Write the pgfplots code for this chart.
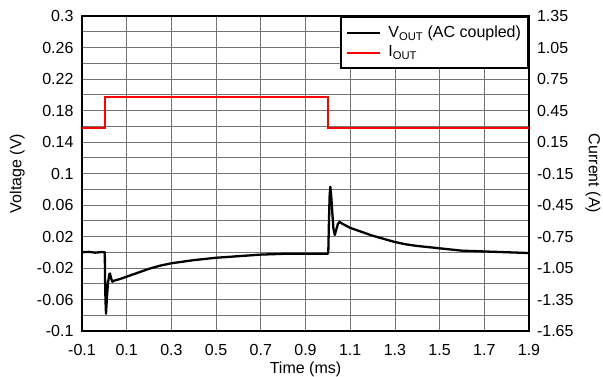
\documentclass[border=0pt]{standalone}
\usepackage{pgfplots}
\pgfplotsset{compat=1.18}
\usepackage{fontspec}
\setmainfont{Liberation Sans}
\begin{document}
\fontsize{16}{19}\selectfont
\begin{tikzpicture}
\pgfplotsset{
  common/.style={
    scale only axis, width=447pt, height=315pt,
    at={(0,0)}, anchor=south west,
    xmin=-0.1, xmax=1.9,
    major tick length=0pt, minor tick length=0pt,
    axis line style={line width=2pt},
    tick label style={font=\fontsize{16}{19}\selectfont},
    label style={font=\fontsize{16}{19}\selectfont},
  }
}
\begin{axis}[
  common,
  ymin=-0.1, ymax=0.3,
  xtick={-0.1,0.1,0.3,0.5,0.7,0.9,1.1,1.3,1.5,1.7,1.9},
  xticklabels={-0.1,0.1,0.3,0.5,0.7,0.9,1.1,1.3,1.5,1.7,1.9},
  ytick={-0.1,-0.06,-0.02,0.02,0.06,0.1,0.14,0.18,0.22,0.26,0.3},
  yticklabels={-0.1,-0.06,-0.02,0.02,0.06,0.1,0.14,0.18,0.22,0.26,0.3},
  minor ytick={-0.08,-0.04,0,0.04,0.08,0.12,0.16,0.2,0.24,0.28},
  xmajorgrids, ymajorgrids, yminorgrids,
  major grid style={black!55, line width=0.7pt},
  minor grid style={black!55, line width=0.7pt},
  xticklabel style={yshift=-8pt},
  yticklabel style={xshift=-3pt},
  xlabel={Time (ms)}, ylabel={Voltage (V)},
  xlabel style={at={(axis description cs:0.5,-0.121)}, anchor=center},
  ylabel style={at={(axis description cs:-0.145,0.5)}, anchor=center},
]
\addplot[black, line width=2.3pt, line join=round] coordinates {
(-0.1,0.0) (-0.07,0.0005) (-0.04,-0.0005) (-0.01,0.0003) (0.002,0.0)
(0.003,-0.03) (0.005,-0.06) (0.0074,-0.078) (0.011,-0.06) (0.016,-0.04)
(0.022,-0.028) (0.025,-0.027) (0.03,-0.033) (0.036,-0.0374) (0.045,-0.036)
(0.07,-0.034) (0.1,-0.031) (0.15,-0.026) (0.2,-0.021) (0.25,-0.017)
(0.3,-0.014) (0.35,-0.012) (0.4,-0.010) (0.5,-0.007) (0.6,-0.005)
(0.7,-0.003) (0.8,-0.002) (0.9,-0.002) (0.999,-0.002)
(1.002,0.0) (1.005,0.04) (1.008,0.072) (1.011,0.083) (1.015,0.072)
(1.02,0.05) (1.025,0.03) (1.031,0.022) (1.037,0.028) (1.045,0.036)
(1.053,0.0388) (1.06,0.037) (1.08,0.034) (1.1,0.031) (1.15,0.026)
(1.2,0.021) (1.25,0.017) (1.3,0.013) (1.35,0.010) (1.4,0.008)
(1.5,0.005) (1.6,0.002) (1.7,0.001) (1.8,0.0) (1.9,-0.001)
};
\end{axis}
\begin{axis}[
  common,
  axis x line=none, axis y line*=right,
  ymin=-1.65, ymax=1.35,
  ytick={-1.65,-1.35,-1.05,-0.75,-0.45,-0.15,0.15,0.45,0.75,1.05,1.35},
  yticklabels={-1.65,-1.35,-1.05,-0.75,-0.45,-0.15,0.15,0.45,0.75,1.05,1.35},
  yticklabel style={xshift=2.5pt},
  ylabel={Current (A)},
  ylabel style={at={(axis description cs:1.143,0.5)}, anchor=center, rotate=180},
  legend style={at={(rel axis cs:1,1)}, anchor=north east, draw=black,
    line width=2pt, fill=white, font=\fontsize{16}{19}\selectfont,
    inner xsep=5pt, inner ysep=7pt, row sep=2pt, column sep=5pt},
  legend cell align=left,
  legend image code/.code={\draw[#1] (0cm,0cm) -- (1.16cm,0cm);},
]
\addlegendimage{black, line width=2.3pt}
\addlegendentry{V\textsubscript{OUT} (AC coupled)}
\addplot[red, line width=2pt] coordinates {
(-0.1,0.28) (0.003,0.28) (0.003,0.58) (1.0,0.58) (1.0,0.28) (1.9,0.28)
};
\addlegendentry{I\textsubscript{OUT}}
\end{axis}
\pgfresetboundingbox
\path[use as bounding box] (-82pt,-46pt) rectangle (521pt,331pt);
\end{tikzpicture}
\end{document}
